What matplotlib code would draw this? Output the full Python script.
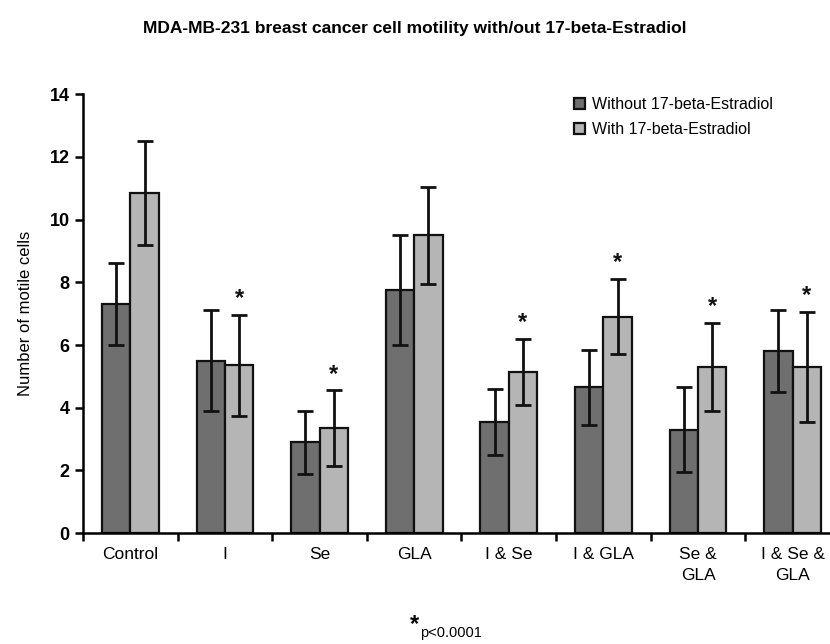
import numpy as np
import matplotlib.pyplot as plt

plt.rcParams['font.family'] = ['Liberation Sans', 'DejaVu Sans']

categories = ['Control', 'I', 'Se', 'GLA', 'I & Se', 'I & GLA', 'Se &\nGLA', 'I & Se &\nGLA']
without_e2 = [7.3, 5.5, 2.9, 7.75, 3.55, 4.65, 3.3, 5.8]
without_err = [1.3, 1.6, 1.0, 1.75, 1.05, 1.2, 1.35, 1.3]
with_e2 = [10.85, 5.35, 3.35, 9.5, 5.15, 6.9, 5.3, 5.3]
with_err = [1.65, 1.6, 1.2, 1.55, 1.05, 1.2, 1.4, 1.75]
significant = [False, True, True, False, True, True, True, True]

fig = plt.figure(figsize=(8.3, 6.44), dpi=100)
ax = fig.add_axes([0.1, 0.172, 0.912, 0.682])

x = np.arange(len(categories))
w = 0.3
err_kw = dict(ecolor='#111111', elinewidth=2, capsize=6, capthick=2)
ax.bar(x - w / 2, without_e2, w, yerr=without_err, color='#6f6f6f', edgecolor='#111111',
       linewidth=1.6, error_kw=err_kw, label='Without 17-beta-Estradiol', zorder=2)
ax.bar(x + w / 2, with_e2, w, yerr=with_err, color='#b5b5b5', edgecolor='#111111',
       linewidth=1.6, error_kw=err_kw, label='With 17-beta-Estradiol', zorder=2)

for i, s in enumerate(significant):
    if s:
        ax.text(x[i] + w / 2, with_e2[i] + with_err[i] + 0.15, '*', ha='center', va='bottom',
                fontsize=17, fontweight='bold', color='#111111')

ax.set_xlim(-0.5, len(categories) - 0.5)
ax.set_ylim(0, 14)
ax.set_yticks(np.arange(0, 15, 2))
ax.set_xticks(x)
ax.set_xticklabels(categories, fontsize=12.5, linespacing=1.5)
ax.set_xticks(np.arange(-0.5, len(categories), 1), minor=True)
ax.tick_params(axis='x', which='major', length=0, pad=10)
ax.tick_params(axis='x', which='minor', length=6, width=1.8, direction='out')
ax.tick_params(axis='y', length=6, width=1.8, labelsize=13, direction='out')
for lbl in ax.get_yticklabels():
    lbl.set_fontweight('bold')
ax.spines['top'].set_visible(False)
ax.spines['right'].set_visible(False)
ax.spines['left'].set_linewidth(1.8)
ax.spines['bottom'].set_linewidth(1.8)
ax.set_ylabel('Number of motile cells', fontsize=12, labelpad=12)

ax.legend(loc='upper left', bbox_to_anchor=(0.63, 1.025), frameon=False, fontsize=11.5,
          handlelength=0.7, handleheight=0.7, handletextpad=0.4, labelspacing=0.6)

fig.text(0.5, 0.955, 'MDA-MB-231 breast cancer cell motility with/out 17-beta-Estradiol',
         ha='center', va='center', fontsize=12.5, fontweight='bold')
fig.text(0.505, 0.03, '*', ha='right', va='center', fontsize=17, fontweight='bold')
fig.text(0.506, 0.017, 'p<0.0001', ha='left', va='center', fontsize=10.5)

fig.savefig('out.png', dpi=100)
